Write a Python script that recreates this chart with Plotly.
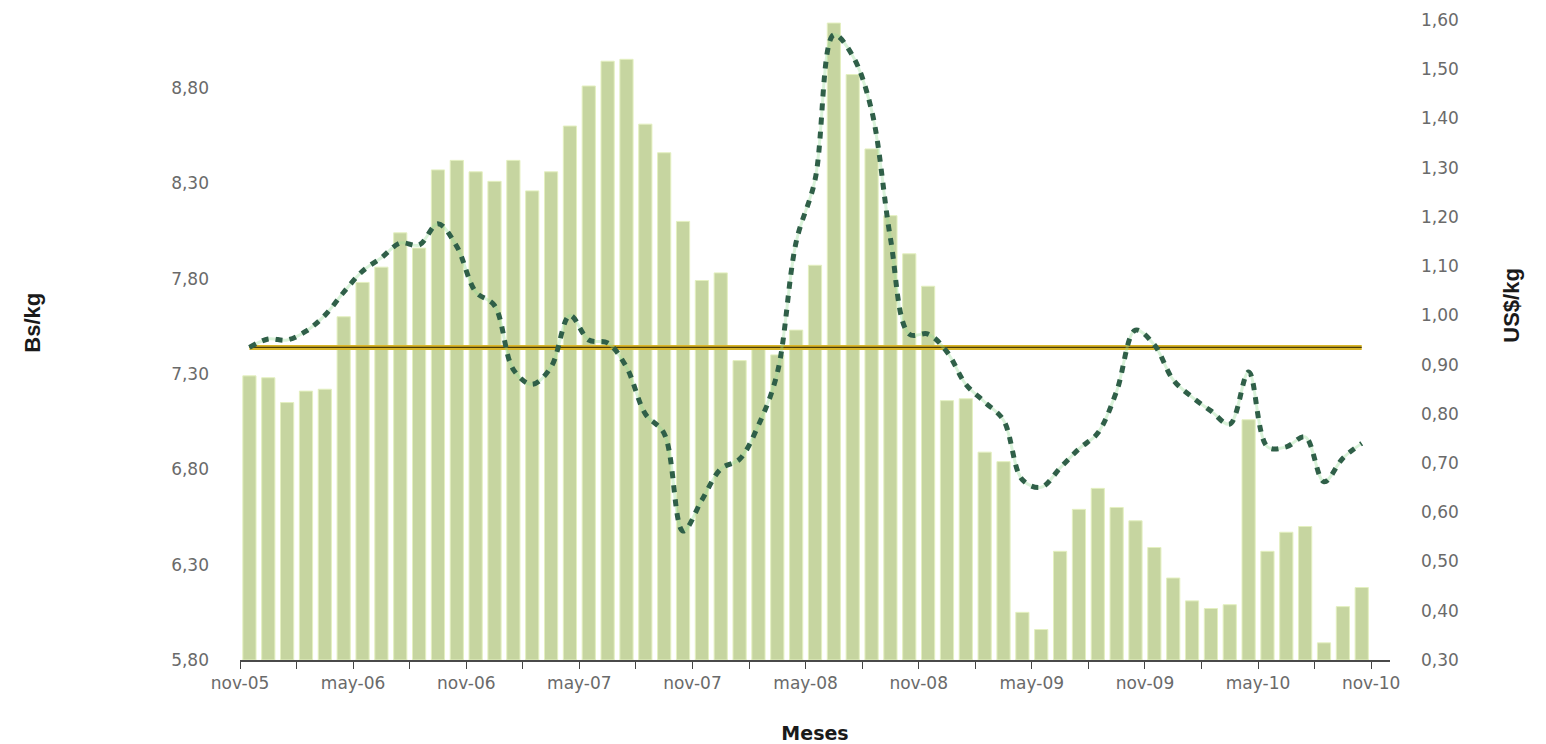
import numpy as np
import plotly.graph_objects as go

# ---- data ----
months = [
    "nov-05", "dic-05", "ene-06", "feb-06", "mar-06", "abr-06", "may-06", "jun-06", "jul-06", "ago-06",
    "sep-06", "oct-06", "nov-06", "dic-06", "ene-07", "feb-07", "mar-07", "abr-07", "may-07", "jun-07",
    "jul-07", "ago-07", "sep-07", "oct-07", "nov-07", "dic-07", "ene-08", "feb-08", "mar-08", "abr-08",
    "may-08", "jun-08", "jul-08", "ago-08", "sep-08", "oct-08", "nov-08", "dic-08", "ene-09", "feb-09",
    "mar-09", "abr-09", "may-09", "jun-09", "jul-09", "ago-09", "sep-09", "oct-09", "nov-09", "dic-09",
    "ene-10", "feb-10", "mar-10", "abr-10", "may-10", "jun-10", "jul-10", "ago-10", "sep-10", "oct-10",
]

# Bs/kg (bars, left axis)
bs_kg = [
    7.29, 7.28, 7.15, 7.21, 7.22, 7.60, 7.78, 7.86, 8.04, 7.96,
    8.37, 8.42, 8.36, 8.31, 8.42, 8.26, 8.36, 8.60, 8.81, 8.94,
    8.95, 8.61, 8.46, 8.10, 7.79, 7.83, 7.37, 7.43, 7.40, 7.53,
    7.87, 9.14, 8.87, 8.48, 8.13, 7.93, 7.76, 7.16, 7.17, 6.89,
    6.84, 6.05, 5.96, 6.37, 6.59, 6.70, 6.60, 6.53, 6.39, 6.23,
    6.11, 6.07, 6.09, 7.06, 6.37, 6.47, 6.50, 5.89, 6.08, 6.18,
]

# US$/kg (dotted line, right axis)
usd_kg = [
    0.935, 0.952, 0.950, 0.968, 1.000, 1.047, 1.090, 1.117, 1.147, 1.143,
    1.186, 1.140, 1.048, 1.020, 0.890, 0.860, 0.895, 1.000, 0.950, 0.944,
    0.895, 0.800, 0.760, 0.562, 0.625, 0.688, 0.708, 0.777, 0.883, 1.149,
    1.275, 1.570, 1.527, 1.417, 1.157, 0.962, 0.962, 0.926, 0.860, 0.824,
    0.787, 0.666, 0.651, 0.690, 0.729, 0.761, 0.846, 0.970, 0.940, 0.869,
    0.834, 0.806, 0.779, 0.885, 0.733, 0.733, 0.753, 0.662, 0.710, 0.740,
]

# horizontal reference level (US$/kg)
ref_level = 0.935

x_labels = ["nov-05", "may-06", "nov-06", "may-07", "nov-07", "may-08",
            "nov-08", "may-09", "nov-09", "may-10", "nov-10"]
left_ticks = [5.80, 6.30, 6.80, 7.30, 7.80, 8.30, 8.80]
right_ticks = [0.30, 0.40, 0.50, 0.60, 0.70, 0.80, 0.90, 1.00, 1.10, 1.20, 1.30, 1.40, 1.50, 1.60]

# ---- figure ----
n = len(months)
x = np.arange(n) + 0.5  # bars centred inside each month slot

tick_vals = list(range(0, n + 1, 3))
tick_text = [x_labels[v // 6] if v % 6 == 0 else "" for v in tick_vals]

def fmt(v):
    return f"{v:.2f}".replace(".", ",")

tick_font = dict(family="DejaVu Sans", size=17, color="#6a6a6a")
title_font = dict(family="Liberation Sans Narrow, Liberation Sans, Arial", size=22, color="#1a1a1a", weight="bold")

fig = go.Figure()

fig.add_trace(go.Bar(
    x=x, y=[v - left_ticks[0] for v in bs_kg], base=left_ticks[0],
    width=0.7,
    marker=dict(color="#c6d5a0", line=dict(color="#e4f0c0", width=1)),
    yaxis="y", showlegend=False, hoverinfo="skip",
))

# reference level line (gold with dark core)
fig.add_trace(go.Scatter(
    x=x, y=[ref_level] * n, mode="lines", yaxis="y2",
    line=dict(color="#d8b52a", width=5), showlegend=False, hoverinfo="skip",
))
fig.add_trace(go.Scatter(
    x=x, y=[ref_level] * n, mode="lines", yaxis="y2",
    line=dict(color="#4a3c08", width=1.2), showlegend=False, hoverinfo="skip",
))

# faint halo under the dotted line
fig.add_trace(go.Scatter(
    x=x, y=usd_kg, mode="lines", yaxis="y2",
    line=dict(color="rgba(150,220,150,0.35)", width=3, shape="spline"),
    showlegend=False, hoverinfo="skip",
))
fig.add_trace(go.Scatter(
    x=x, y=usd_kg, mode="lines", yaxis="y2",
    line=dict(color="#2f5f48", width=5, dash="7px,7px", shape="spline"),
    showlegend=False,
))

fig.update_layout(
    width=1538, height=736,
    margin=dict(l=232, r=156, t=12, b=84),
    paper_bgcolor="white", plot_bgcolor="white",
    bargap=0.3,
    xaxis=dict(
        range=[0, n + 1], automargin=False,
        tickmode="array", tickvals=tick_vals, ticktext=tick_text,
        ticks="outside", ticklen=7, tickcolor="#444", tickwidth=1,
        showline=True, linecolor="#4a4a4a", linewidth=1.5,
        showgrid=False, zeroline=False,
        tickfont=tick_font,
        title=dict(text="Meses", font=dict(family="DejaVu Sans", size=19, color="#1a1a1a", weight="bold"), standoff=36),
    ),
    yaxis=dict(
        range=[5.80, 5.80 + 640 / 190.7], automargin=False,
        tickmode="array", tickvals=left_ticks, ticktext=[fmt(v) for v in left_ticks],
        showgrid=False, zeroline=False, showline=False, ticks="",
        ticklabelstandoff=30,
        tickfont=tick_font,
    ),
    yaxis2=dict(
        range=[0.30, 1.60], overlaying="y", side="right", automargin=False,
        tickmode="array", tickvals=right_ticks, ticktext=[fmt(v) for v in right_ticks],
        showgrid=False, zeroline=False, showline=False, ticks="",
        ticklabelstandoff=30,
        tickfont=tick_font,
    ),
    annotations=[
        dict(text="Bs/kg", xref="paper", yref="paper", x=-0.18, y=0.527,
             textangle=-90, showarrow=False, font=title_font,
             xanchor="center", yanchor="middle"),
        dict(text="US$/kg", xref="paper", yref="paper", x=1.106, y=0.555,
             textangle=-90, showarrow=False, font=title_font,
             xanchor="center", yanchor="middle"),
    ],
)

fig.write_html("out.html")
